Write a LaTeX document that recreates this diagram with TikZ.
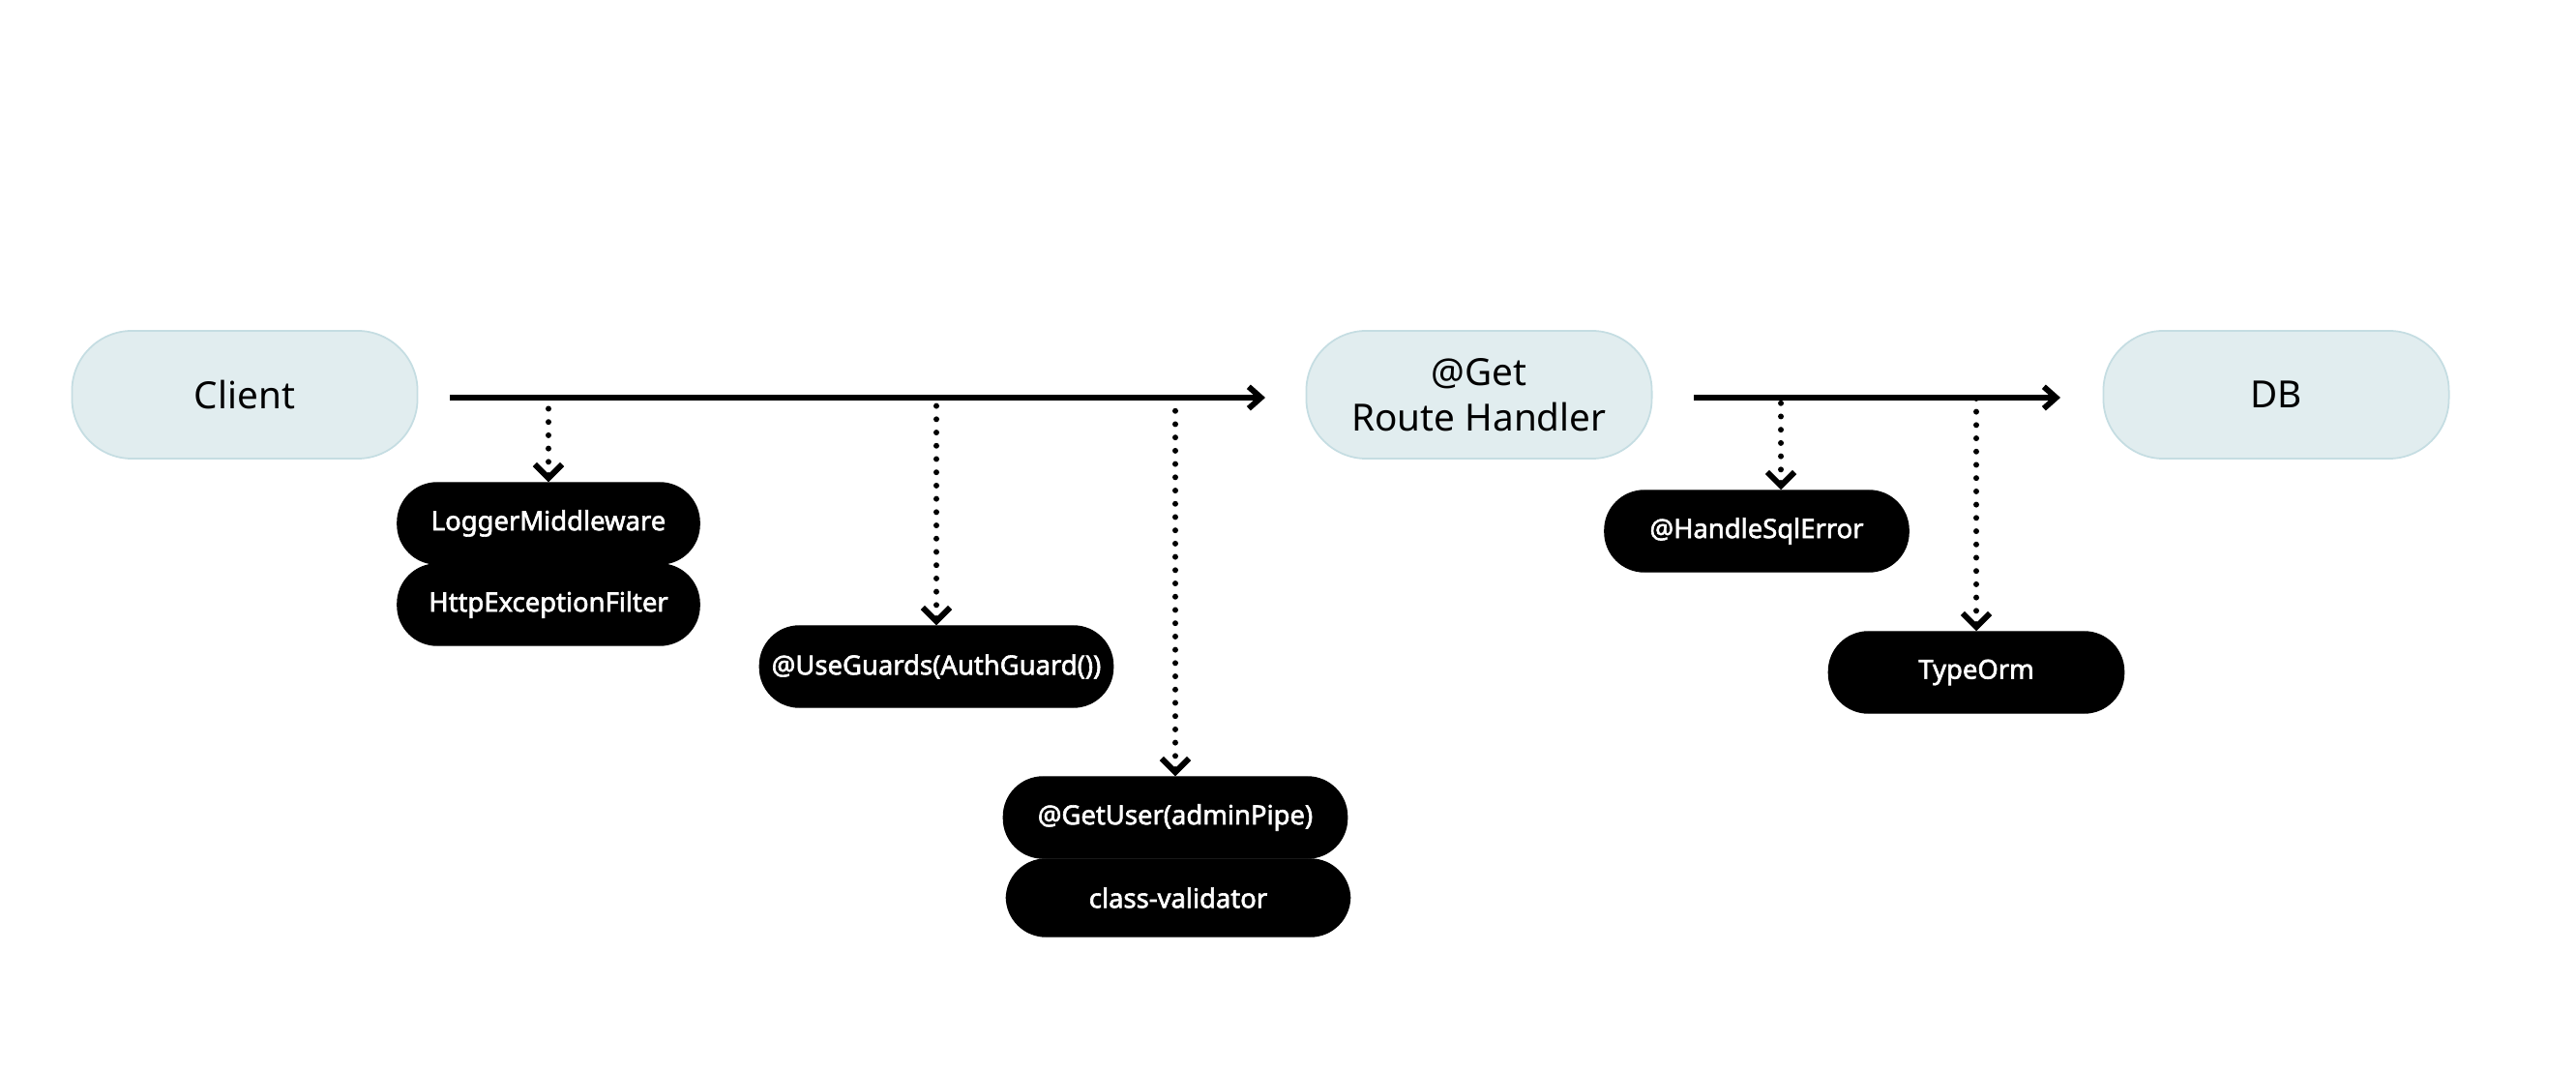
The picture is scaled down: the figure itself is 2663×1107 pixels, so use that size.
\documentclass[tikz,border=0pt]{standalone}
\usepackage{fontspec}
\setmainfont{Noto Sans}
\newfontfamily\tagfont{Noto Sans}[FakeBold=2.2]
\usetikzlibrary{arrows.meta}
\definecolor{pale}{HTML}{E1EDEF}
\definecolor{edge}{HTML}{C5DDE2}

\begin{document}
\begin{tikzpicture}[x=0.01cm, y=-0.01cm,
  > = {Straight Barb[length=3.6pt,width=6.4pt]},
  endpoint/.style={draw=edge, fill=pale, line width=0.5pt, rounded corners=0.62cm,
    minimum width=3.57cm, minimum height=1.32cm, inner sep=0pt, align=center,
    font=\fontsize{11}{13.4}\selectfont},
  layer/.style={draw=black, fill=black, text=white, rounded corners=0.41cm,
    minimum height=0.84cm, inner sep=0pt, font=\tagfont\fontsize{7.8}{9}\selectfont},
  flow/.style={->, line width=1.7pt},
  tap/.style={{Straight Barb[length=4pt,width=8pt]}-, line width=1.7pt, line cap=round,
    dash pattern=on 0pt off 3.9pt}]

         \useasboundingbox (0,0) rectangle (2663,1107);

         \node[endpoint] (client) at (253,408) {Client};
         \node[endpoint] (handler) at (1529,408) {@Get\\Route Handler};
         \node[endpoint] (db) at (2353,408) {DB};

         \node[layer, minimum width=3.12cm] (logger) at (567,541) {LoggerMiddleware};
         \node[layer, minimum width=3.12cm] (filter) at (567,625) {HttpExceptionFilter};
         \node[layer, minimum width=3.65cm] (guard) at (968,689) {@UseGuards(AuthGuard())};
         \node[layer, minimum width=3.55cm] (pipe) at (1215,845) {@GetUser(adminPipe)};
         \node[layer, minimum width=3.55cm, minimum height=0.80cm] (validator) at (1218,928) {class-validator};
         \node[layer, minimum width=3.14cm] (sqlerr) at (1816,549) {@HandleSqlError};
         \node[layer, minimum width=3.05cm] (orm) at (2043,695) {TypeOrm};

         % request line
         \coordinate (in) at (465,411);
         \coordinate (out) at (1308,411);
         \draw[flow] (in) -- (out);
         \coordinate (down) at (1751,411);
         \coordinate (save) at (2130,411);
         \draw[flow] (down) -- (save);

         % hooks
         \draw[tap] (logger.north) -- (logger.north |- in);
         \draw[tap] (guard.north) -- (guard.north |- in);
         \draw[tap] (pipe.north) -- (pipe.north |- in);
         \draw[tap] ([xshift=0.25cm]sqlerr.north) -- ([xshift=0.25cm]sqlerr.north |- down);
         \draw[tap] (orm.north) -- (orm.north |- down);

\end{tikzpicture}
\end{document}
